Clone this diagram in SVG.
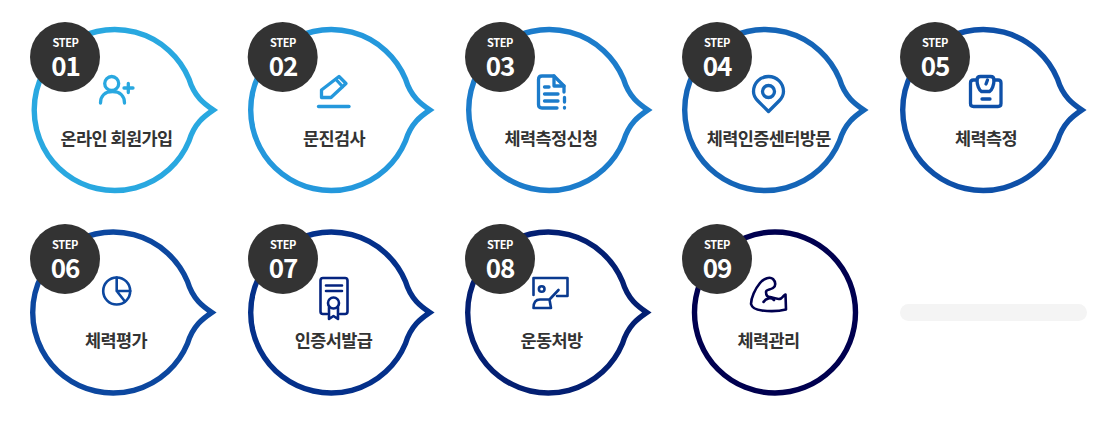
<svg xmlns="http://www.w3.org/2000/svg" width="1109" height="421" viewBox="0 0 1109 421">
<style>
text{font-family:"Noto Sans CJK KR","Noto Sans",sans-serif;text-anchor:middle}
.bubble{fill:#fff;stroke:currentColor;stroke-width:5.400;stroke-miterlimit:8}
.badge{fill:#333}
.step{fill:#fff;font-size:11px;font-weight:700;letter-spacing:-.4px}
.num{fill:#fff;font-size:26px;font-weight:700;letter-spacing:-1px}
.label{fill:#333;font-size:17.500px;font-weight:700;letter-spacing:-.6px}
.icon{fill:none;stroke:currentColor;stroke-width:3.300;stroke-linecap:round;stroke-linejoin:round}
.thin{stroke-width:2.600}
</style>
<defs>
<path id="bubble" d="M98.800 0C90 -6 80 -13 74.500 -31A80.500 80.500 0 1 0 74.500 31C80 13 90 6 98.800 0Z"/>
</defs>
<rect width="1109" height="421" fill="#fff"/>
<g id="connectors"></g>

<g id="step-01" color="#29a8e0">
<use href="#bubble" class="bubble" x="114.500" y="110"/>
<circle class="badge" cx="65" cy="57" r="35"/>
<text class="step" x="65.500" y="47">STEP</text><text class="num" x="65.500" y="75.500">01</text>
<g class="icon"><circle cx="111.700" cy="83.500" r="7"/><path d="M100.500 103C100.500 96 105 91.500 112.500 91.500S124.500 96 124.500 103"/><path d="M124 88H133M128.300 83.500V92.500"/></g>
<text class="label" x="116.500" y="144.500">온라인 회원가입</text>
</g>

<g id="step-02" color="#2498dc">
<use href="#bubble" class="bubble" x="331" y="110"/>
<circle class="badge" cx="282.700" cy="57" r="35"/>
<text class="step" x="283" y="47">STEP</text><text class="num" x="283" y="75.500">02</text>
<g class="icon"><path d="M318.500 106.500H349"/><path d="M321.500 97.500V90L339 76.500L346 83.500L331 97.500Z"/><path d="M336 79.500L342.500 86.500"/></g>
<text class="label" x="334" y="144.500">문진검사</text>
</g>

<g id="step-03" color="#1c7ccb">
<use href="#bubble" class="bubble" x="549" y="110"/>
<circle class="badge" cx="500" cy="57" r="35"/>
<text class="step" x="500" y="47">STEP</text><text class="num" x="500" y="75.500">03</text>
<g class="icon"><path d="M557 108H542Q538.500 108 538.500 104.500V79.500Q538.500 76 542 76H554L564 86V92"/><path d="M554 76V86H564"/><path d="M544.500 87H549M544.500 94H558M544.500 101H558"/><path d="M564.500 97.500V102M564.500 107.500V108"/></g>
<text class="label" x="551" y="144.500">체력측정신청</text>
</g>

<g id="step-04" color="#1565b7">
<use href="#bubble" class="bubble" x="765" y="110"/>
<circle class="badge" cx="717" cy="57" r="35"/>
<text class="step" x="717" y="47">STEP</text><text class="num" x="717" y="75.500">04</text>
<g class="icon"><path d="M768.500 111.500L758 101C755 98 753.500 95 753.500 91.500C753.500 83 760 76.500 768.500 76.500S783.500 83 783.500 91.500C783.500 95 782 98 779 101Z"/><circle cx="768.500" cy="91.500" r="6"/></g>
<text class="label" x="768.700" y="144.500">체력인증센터방문</text>
</g>

<g id="step-05" color="#0e50a8">
<use href="#bubble" class="bubble" x="983" y="110"/>
<circle class="badge" cx="935" cy="57" r="35"/>
<text class="step" x="935" y="47">STEP</text><text class="num" x="935" y="75.500">05</text>
<g class="icon"><path d="M977 80H973.500Q970.500 80 970.500 83V103.500Q970.500 106.500 973.500 106.500H998Q1001 106.500 1001 103.500V83Q1001 80 998 80H994"/><path d="M977 80Q977 76.500 980.500 76.500H990.500Q994 76.500 994 80C994 85 992 90 989.500 91.500H981.500C979 90 977 85 977 80Z"/><path d="M986 84L987.500 80"/><path d="M982 99H990"/></g>
<text class="label" x="986" y="144.500">체력측정</text>
</g>

<g id="step-06" color="#0c479f">
<use href="#bubble" class="bubble" x="113" y="312.500"/>
<circle class="badge" cx="65" cy="259" r="35"/>
<text class="step" x="65" y="249">STEP</text><text class="num" x="65" y="277.500">06</text>
<g class="icon thin"><circle cx="116.700" cy="291" r="13.500"/><path d="M116.700 277.500V291H130.200M116.700 291L125 301.500"/></g>
<text class="label" x="116" y="346.500">체력평가</text>
</g>

<g id="step-07" color="#04308a">
<use href="#bubble" class="bubble" x="331" y="312.500"/>
<circle class="badge" cx="283" cy="259" r="35"/>
<text class="step" x="283" y="249">STEP</text><text class="num" x="283" y="277.500">07</text>
<g class="icon thin" color="#04237f"><path d="M327 314H323Q320.500 314 320.500 311.500V280.500Q320.500 278 323 278H345Q347.500 278 347.500 280.500V311.500Q347.500 314 345 314H340"/><path d="M326 285.500H342M326 291H342"/><circle cx="333.500" cy="303" r="5.500"/><path d="M329 307.500V319L333.500 316L338 319V307.500"/></g>
<text class="label" x="333.500" y="346.500">인증서발급</text>
</g>

<g id="step-08" color="#031f72">
<use href="#bubble" class="bubble" x="548" y="312.500"/>
<circle class="badge" cx="500" cy="259" r="35"/>
<text class="step" x="500" y="249">STEP</text><text class="num" x="500" y="277.500">08</text>
<g class="icon thin" color="#0a3a8f"><path d="M533.500 295V278H567.500V296H557"/><circle cx="541.700" cy="289" r="2.800"/><path d="M558.500 290L549.500 299.500H540C536 299.500 533.500 302 533.500 308H551L549.500 299.500"/></g>
<text class="label" x="551.500" y="346.500">운동처방</text>
</g>

<g id="step-09" color="#00004f">
<circle class="bubble" cx="775" cy="312.500" r="80.500"/>
<circle class="badge" cx="717" cy="259" r="35"/>
<text class="step" x="717" y="249">STEP</text><text class="num" x="717" y="277.500">09</text>
<g class="icon thin"><path d="M751 304C751 298 755 289 760 283C764 278 770 276.500 773 279C776 282 776 286 773 288C770 290 766 289 766 292C766 295 767 297 770 297C774 298 778 300 781 298.500C783 297 784 295 785.500 294.500L786 309.500C780 311 770 311.500 762 310.500C757 310 752 308 751 304Z"/><path d="M763.500 302C766 298 771 297 774 300"/></g>
<text class="label" x="768.500" y="346.500">체력관리</text>
</g>

<rect id="pill" x="900" y="304" width="187" height="17" rx="8.500" fill="#f4f4f4"/>
</svg>
